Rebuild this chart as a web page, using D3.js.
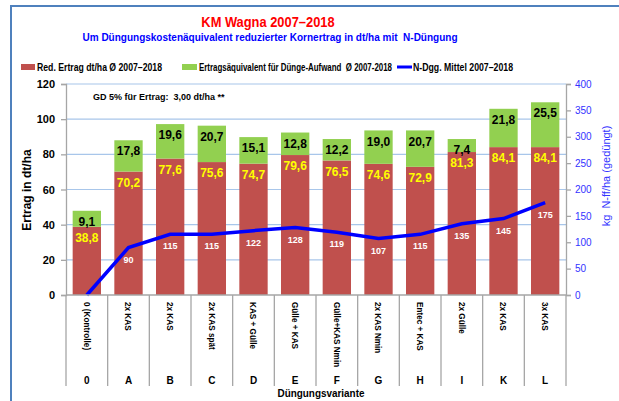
<!DOCTYPE html>
<html>
<meta charset="utf-8">
<head>
<script src="https://cdnjs.cloudflare.com/ajax/libs/d3/7.8.5/d3.min.js"></script>
</head>
<style>
body { margin: 0; background: #fff; font-family: "Liberation Sans", Arial, sans-serif; }
.axis .domain, .axis .tick line { stroke: #a6a6a6; stroke-width: 1.3px; }
.left .tick text { font-size: 11px; font-weight: bold; fill: #000; }
.right .tick text { font-size: 10px; fill: #3333ff; }
.grid line { stroke: #a8c6ea; stroke-width: 1.2px; }
</style>
<body>
<svg id="canvas" width="619" height="401"></svg>
<script>
// categories and values
const codes = ["0", "A", "B", "C", "D", "E", "F", "G", "H", "I", "K", "L"];
const variants = ["0 (Kontrolle)", "2x KAS", "2x KAS", "2x KAS spät", "KAS + Gülle", "Gülle + KAS",
                  "Gülle+KAS Nmin", "2x KAS Nmin", "Entec + KAS", "2x Gülle", "2x KAS", "3x KAS"];
const redYield = [38.8, 70.2, 77.6, 75.6, 74.7, 79.6, 76.5, 74.6, 72.9, 81.3, 84.1, 84.1];
const greenEquiv = [9.1, 17.8, 19.6, 20.7, 15.1, 12.8, 12.2, 19.0, 20.7, 7.4, 21.8, 25.5];
const nFert = [0, 90, 115, 115, 122, 128, 119, 107, 115, 135, 145, 175];
const leftTicks = [0, 20, 40, 60, 80, 100, 120];
const rightTicks = [0, 50, 100, 150, 200, 250, 300, 350, 400];

const fmt = v => d3.format(".1f")(v).replace(".", ",");

// no narrow font installed: squeeze glyphs horizontally instead
function condense(sel, factor) {
  sel.each(function() {
    const len = this.getComputedTextLength();
    d3.select(this).attr('textLength', len * factor).attr('lengthAdjust', 'spacingAndGlyphs');
  });
}

const svg = d3.select('#canvas');

// chart frame
svg.append('rect')
   .attr('x', 11).attr('y', 6).attr('width', 700).attr('height', 500)
   .attr('fill', '#fff').attr('stroke', '#4f81bd').attr('stroke-width', 2);

const x = d3.scaleBand().domain(codes).range([66, 566])
            .paddingInner(0.32).paddingOuter(0.16);
const y = d3.scaleLinear().domain([0, 120]).range([295, 84]);
const y2 = d3.scaleLinear().domain([0, 400]).range([295, 84]);

// gridlines
svg.append('g').classed('grid', true)
   .selectAll('line').data(leftTicks.slice(1)).join('line')
   .attr('x1', 66).attr('x2', 566)
   .attr('y1', d => y(d)).attr('y2', d => y(d));

const rows = codes.map((c, i) => ({code: c, variant: variants[i], red: redYield[i], green: greenEquiv[i], n: nFert[i]}));

// bars
const bars = svg.append('g');
bars.selectAll('.red').data(rows).join('rect').classed('red', true)
    .attr('x', d => x(d.code)).attr('width', x.bandwidth())
    .attr('y', d => y(d.red)).attr('height', d => y(0) - y(d.red))
    .attr('fill', '#c0504d');
bars.selectAll('.green').data(rows).join('rect').classed('green', true)
    .attr('x', d => x(d.code)).attr('width', x.bandwidth())
    .attr('y', d => y(d.red + d.green)).attr('height', d => y(d.red) - y(d.red + d.green))
    .attr('fill', '#92d050');

const cx = d => x(d.code) + x.bandwidth() / 2;

// value labels
svg.append('g').selectAll('text').data(rows).join('text')
   .attr('x', cx).attr('y', d => y(d.red + d.green) + 11).attr('dy', '0.35em')
   .attr('text-anchor', 'middle').style('font-size', '12px').style('font-weight', 'bold')
   .attr('fill', '#000').text(d => fmt(d.green));
svg.append('g').selectAll('text').data(rows).join('text')
   .attr('x', cx).attr('y', d => y(d.red) + 11).attr('dy', '0.35em')
   .attr('text-anchor', 'middle').style('font-size', '12px').style('font-weight', 'bold')
   .attr('fill', '#ffff00').text(d => fmt(d.red));

// N line
const line = d3.line().x(cx).y(d => y2(d.n));
svg.append('path').datum(rows).attr('d', line)
   .attr('fill', 'none').attr('stroke', '#0000ff').attr('stroke-width', 3.5);
svg.append('g').selectAll('text').data(rows.filter(d => d.n > 0)).join('text')
   .attr('x', cx).attr('y', d => y2(d.n) + 12).attr('dy', '0.35em')
   .attr('text-anchor', 'middle').style('font-size', '9px').style('font-weight', 'bold')
   .attr('fill', '#fff').text(d => d.n);

// axes
svg.append('g').classed('axis left', true).attr('transform', 'translate(66,0)')
   .call(d3.axisLeft(y).tickValues(leftTicks).tickSize(5).tickPadding(6));
svg.append('g').classed('axis right', true).attr('transform', 'translate(566,0)')
   .call(d3.axisRight(y2).tickValues(rightTicks).tickSize(5).tickPadding(4));

// category axis below
const bottom = svg.append('g');
bottom.append('line').attr('x1', 66).attr('x2', 566).attr('y1', 295).attr('y2', 295)
      .attr('stroke', '#a6a6a6').attr('stroke-width', 1.3);
bottom.selectAll('.sep').data(d3.range(codes.length + 1)).join('line').classed('sep', true)
      .attr('x1', i => 66 + i * x.step()).attr('x2', i => 66 + i * x.step())
      .attr('y1', 295).attr('y2', 386)
      .attr('stroke', '#a6a6a6').attr('stroke-width', 1.3);
bottom.selectAll('.variant').data(rows).join('text').classed('variant', true)
      .attr('transform', d => `translate(${cx(d)},302) rotate(90)`)
      .attr('dy', '0.35em').style('font-size', '9.5px').style('font-weight', 'bold')
      .text(d => d.variant)
      .call(condense, 0.86);
bottom.selectAll('.code').data(rows).join('text').classed('code', true)
      .attr('x', cx).attr('y', 384).attr('text-anchor', 'middle')
      .style('font-size', '10px').style('font-weight', 'bold').text(d => d.code);
svg.append('text').attr('x', 321).attr('y', 397).attr('text-anchor', 'middle')
   .style('font-size', '11px').style('font-weight', 'bold').text('Düngungsvariante')
   .call(condense, 0.9);

// axis titles
svg.append('text').attr('transform', 'translate(31,190) rotate(-90)')
   .attr('text-anchor', 'middle').style('font-size', '12px').style('font-weight', 'bold')
   .text('Ertrag in dt/ha');
svg.append('text').attr('transform', 'translate(610,176) rotate(-90)')
   .attr('text-anchor', 'middle').style('font-size', '11px').attr('fill', '#3333ff')
   .attr('xml:space', 'preserve').text('kg  N-ff/ha (gedüngt)');

// annotation
svg.append('text').attr('x', 93).attr('y', 100).style('font-size', '9px').style('font-weight', 'bold')
   .attr('xml:space', 'preserve').text('GD 5% für Ertrag:  3,00 dt/ha **');

// titles
svg.append('text').attr('x', 268).attr('y', 27).attr('text-anchor', 'middle')
   .style('font-size', '15.5px').style('font-weight', 'bold').attr('fill', '#ff0000')
   .text('KM Wagna 2007–2018')
   .call(condense, 0.83);
svg.append('text').attr('x', 270).attr('y', 41).attr('text-anchor', 'middle')
   .style('font-size', '10px').style('font-weight', 'bold').attr('fill', '#0000ff')
   .attr('xml:space', 'preserve').text('Um Düngungskostenäquivalent reduzierter Kornertrag in dt/ha mit  N-Düngung');

// legend
const legend = svg.append('g').style('font-size', '10.5px').style('font-weight', 'bold');
legend.append('rect').attr('x', 21).attr('y', 64).attr('width', 14).attr('height', 6).attr('fill', '#c0504d');
legend.append('rect').attr('x', 182).attr('y', 64).attr('width', 15).attr('height', 6).attr('fill', '#92d050');
legend.append('line').attr('x1', 397).attr('x2', 412).attr('y1', 67).attr('y2', 67)
      .attr('stroke', '#0000ff').attr('stroke-width', 3);
legend.append('text').attr('x', 37).attr('y', 71).text('Red. Ertrag dt/ha Ø 2007–2018')
      .attr('textLength', 125).attr('lengthAdjust', 'spacingAndGlyphs');
legend.append('text').attr('x', 199).attr('y', 71).attr('xml:space', 'preserve')
      .text('Ertragsäquivalent für Dünge-Aufwand  Ø 2007-2018')
      .attr('textLength', 193).attr('lengthAdjust', 'spacingAndGlyphs');
legend.append('text').attr('x', 413).attr('y', 71).text('N-Dgg. Mittel 2007–2018')
      .attr('textLength', 100).attr('lengthAdjust', 'spacingAndGlyphs');
</script>
</body>
</html>
